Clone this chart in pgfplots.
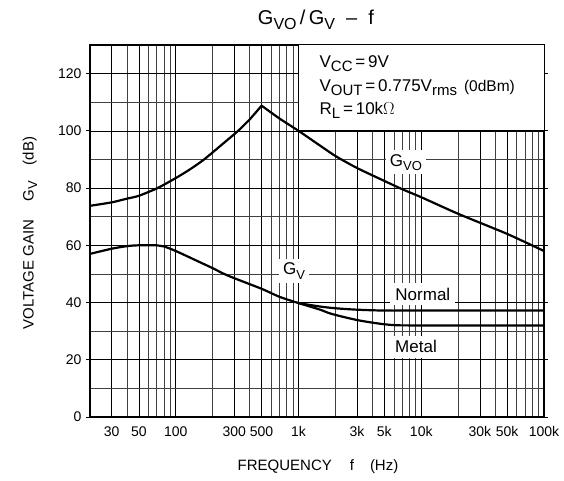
\documentclass[border=0pt]{standalone}
\usepackage{fontspec}
\setmainfont{Liberation Sans}
\usepackage{pgfplots}
\pgfplotsset{compat=1.18}
\newcommand\sub[1]{\raisebox{-0.45ex}{\fontsize{13}{13}\selectfont #1}}
\newcommand\lsub[1]{\raisebox{-0.45ex}{\fontsize{15}{15}\selectfont #1}}
\begin{document}
\begin{tikzpicture}[x=1pt,y=1pt]
\useasboundingbox (-90,-64) rectangle (474,417);
\begin{semilogxaxis}[
  at={(0,0)}, anchor=south west, scale only axis,
  width=454pt, height=372pt,
  xmin=20, xmax=100000, ymin=0, ymax=130,
  xtick={30,50,100,300,500,1000,3000,5000,10000,30000,50000,100000},
  xticklabels={30,50,100,300,500,1k,3k,5k,10k,30k,50k,100k},
  minor xtick={20,40,60,70,80,90,200,400,600,700,800,900,2000,4000,6000,7000,8000,9000,20000,40000,60000,70000,80000,90000},
  ytick={0,20,...,120},
  minor ytick={10,30,...,110},
  grid=both,
  major grid style={black, line width=0.6pt},
  minor grid style={black!75, line width=0.6pt},
  axis line style={line width=1.3pt},
  xtick style={draw=none},
  ytick style={black, line width=0.8pt},
  tick align=outside,
  major tick length=4pt,
  minor tick length=0pt,
  /pgf/number format/assume math mode=true,
  ticklabel style={font=\fontsize{14}{14}\selectfont},
  xticklabel style={yshift=-2pt},
  yticklabel style={xshift=-1pt},
  clip=false,
]
% condition box
\fill[white] (axis cs:1000,100) rectangle (axis cs:100000,130);
\draw[line width=0.8pt] (axis cs:1000,130) -- (axis cs:1000,100) -- (axis cs:100000,100);
\node[anchor=west, font=\fontsize{17}{17}\selectfont] at (axis cs:1390,123.5) {V\lsub{CC}\,=\,9V};
\node[anchor=west, font=\fontsize{17}{17}\selectfont] at (axis cs:1390,115) {V\lsub{OUT}\,=\,0.775V\lsub{rms}\hspace{7pt}{\fontsize{15.5}{15.5}\selectfont(0dBm)}};
\node[anchor=west, font=\fontsize{17}{17}\selectfont] at (axis cs:1390,107.2) {R\lsub{L}\,=\,10k$\Omega$};

% G_VO
\addplot[black, line width=2.2pt, smooth, tension=0.4] coordinates {
 (20,73.8) (30,75) (40,76.3) (50,77.3) (71,80) (100,83.5) (130,86.5)
 (170,90) (250,96) (322,100) (400,104) (500,108.8)};
\addplot[black, line width=2.2pt, smooth, tension=0.4] coordinates {
 (500,108.8) (700,104.3) (1000,100) (1400,95.7) (2000,91.2) (3000,87)
 (5000,82.5) (7000,79.6) (10000,76.8) (20000,71) (50000,64) (100000,58)};
% G_V
\addplot[black, line width=2.2pt, smooth, tension=0.5] coordinates {
 (20,57) (30,58.8) (40,59.7) (50,60) (70,60) (80,59.6) (100,58)
 (150,54.5) (200,52) (266,49.4) (500,44.8) (700,42) (1000,39.8)};
% Normal
\addplot[black, line width=2.2pt, smooth, tension=0.5] coordinates {
 (1000,39.8) (1500,38.6) (2000,38) (3000,37.5) (5000,37.2) (10000,37.2) (100000,37.2)};
% Metal
\addplot[black, line width=2.2pt, smooth, tension=0.5] coordinates {
 (1000,39.8) (1500,37.5) (1870,36) (3160,33.7) (5600,32.2) (10000,32) (100000,32)};

\node[fill=white, inner sep=4pt, font=\fontsize{17}{17}\selectfont] at (axis cs:7500,89) {G\sub{VO}};
\node[fill=white, inner sep=4pt, font=\fontsize{17}{17}\selectfont] at (axis cs:920,51) {G\sub{V}};
\node[fill=white, inner sep=5pt, font=\fontsize{17}{17}\selectfont] at (axis cs:10300,43) {Normal};
\node[fill=white, inner sep=5pt, font=\fontsize{17}{17}\selectfont] at (axis cs:9060,24.5) {Metal};
\end{semilogxaxis}
\node[font=\fontsize{20}{20}\selectfont] at (226,397) {G\raisebox{-0.45ex}{\fontsize{16}{16}\selectfont VO}\,/\,G\raisebox{-0.45ex}{\fontsize{16}{16}\selectfont V}~~–~~f};
\node[font=\fontsize{15}{15}\selectfont] at (228,-50) {FREQUENCY\hspace{18pt}f\hspace{16pt}(Hz)};
\node[rotate=90, font=\fontsize{15}{15}\selectfont] at (-60,184) {VOLTAGE GAIN\hspace{18pt}G\sub{V}\hspace{16pt}(dB)};
\end{tikzpicture}
\end{document}
